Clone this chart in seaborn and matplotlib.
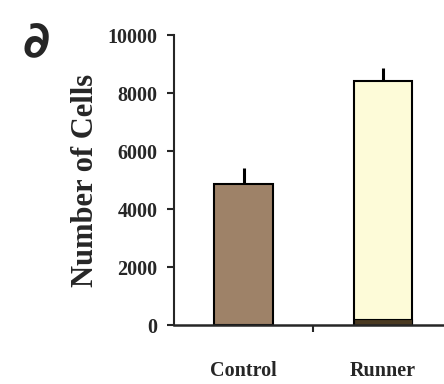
import pandas as pd
import seaborn as sns
import matplotlib.pyplot as plt

groups = ["Control", "Runner"]
cells = [4850, 8420]
cells_err = [560, 450]
cells_base = [0, 220]   # dark segment at the bottom of the Runner bar
bar_colors = ["#9e8268", "#fdfbd8"]


def main():
    sns.set_style("ticks")
    plt.rcParams["font.family"] = ["Liberation Serif", "DejaVu Serif"]

    df = pd.DataFrame({"group": groups, "cells": cells, "base": cells_base})

    fig = plt.figure(figsize=(4.44, 3.84), dpi=100)
    ax = fig.add_axes([0.392, 0.1536, 0.608, 0.7552])

    sns.barplot(data=df, x="group", y="cells", hue="group", palette=bar_colors,
                saturation=1, width=0.42, edgecolor="black", linewidth=1.5,
                legend=False, errorbar=None, ax=ax)
    sns.barplot(data=df, x="group", y="base", color="#4a3a22", saturation=1,
                width=0.42, edgecolor="black", linewidth=0.8,
                errorbar=None, ax=ax)

    # upper-only error bars
    ax.errorbar(range(len(groups)), cells, yerr=[[0] * len(groups), cells_err],
                fmt="none", ecolor="black", elinewidth=2.2, capsize=0, zorder=5)

    ax.set_xlim(-0.5, 1.44)
    ax.set_ylim(0, 10000)
    ax.set_yticks([0, 2000, 4000, 6000, 8000, 10000])
    ax.set_yticklabels(["0", "2000", "4000", "6000", "8000", "10000"],
                       fontsize=14.5, fontweight="bold")

    ax.set_xticks([0.5])
    ax.set_xticklabels([""])
    for i, g in enumerate(groups):
        ax.text(i, -0.16, g, transform=ax.get_xaxis_transform(),
                ha="center", va="center", fontsize=14.5, fontweight="bold")

    ax.set_xlabel("")
    ax.set_ylabel("Number of Cells", fontsize=22, fontweight="bold", labelpad=5)

    ax.tick_params(axis="both", direction="out", length=5, width=1.5)
    ax.tick_params(axis="y", pad=7)
    for side in ["top", "right"]:
        ax.spines[side].set_visible(False)
    ax.spines["left"].set_linewidth(1.5)
    ax.spines["bottom"].set_linewidth(1.8)

    fig.text(0.082, 0.888, "\u2202", fontsize=36, fontweight="bold",
             family="DejaVu Sans", ha="center", va="center")

    fig.savefig("out.png", dpi=100)
    plt.close(fig)


if __name__ == "__main__":
    main()
